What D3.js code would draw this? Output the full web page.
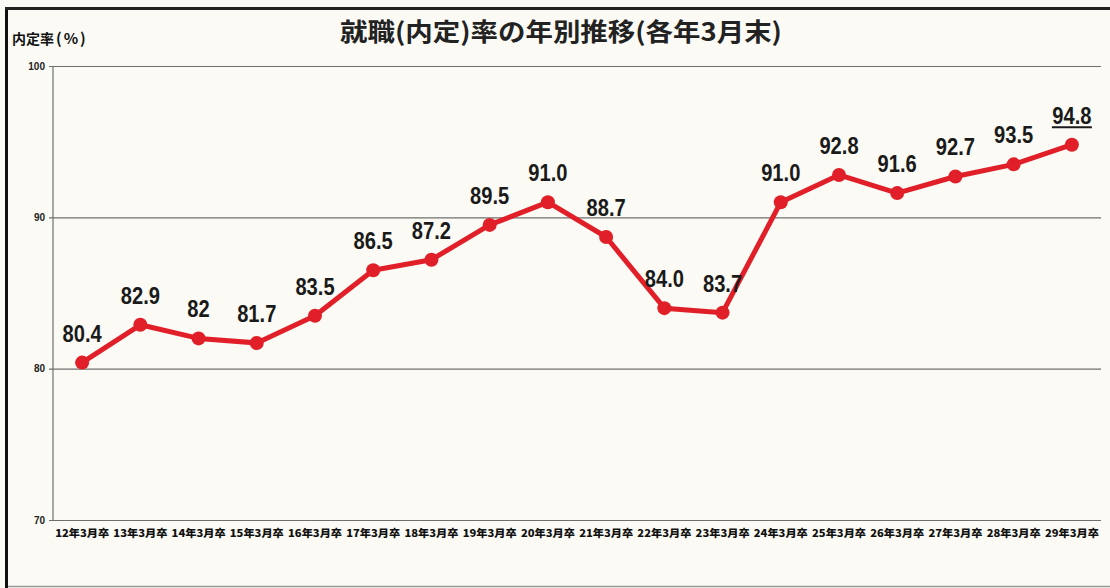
<!DOCTYPE html>
<html><head><meta charset="utf-8">
<script src="https://cdn.jsdelivr.net/npm/d3@7"></script>
<style>
html,body{margin:0;padding:0;background:#fbfaf4;}
svg{display:block;}
</style></head>
<body>
<svg id="chart" width="1110" height="588"></svg>
<script>
const categories = ["12年3月卒","13年3月卒","14年3月卒","15年3月卒","16年3月卒","17年3月卒","18年3月卒","19年3月卒","20年3月卒","21年3月卒","22年3月卒","23年3月卒","24年3月卒","25年3月卒","26年3月卒","27年3月卒","28年3月卒","29年3月卒"];
const values = [80.4,82.9,82,81.7,83.5,86.5,87.2,89.5,91.0,88.7,84.0,83.7,91.0,92.8,91.6,92.7,93.5,94.8];
const valueLabels = ["80.4","82.9","82","81.7","83.5","86.5","87.2","89.5","91.0","88.7","84.0","83.7","91.0","92.8","91.6","92.7","93.5","94.8"];
const yTicks = [70,80,90,100];
const title = "就職(内定)率の年別推移(各年3月末)";
const yTitleMain = "内定率";
const yTitleUnit = "(%)";

const svg = d3.select("#chart");
const W = 1110, H = 588;
const m = {left:53, right:10, top:66, bottom:68};

svg.append("rect").attr("width",W).attr("height",H).attr("fill","#fbfaf4");
// frame
svg.append("line").attr("x1",6.5).attr("x2",6.5).attr("y1",7).attr("y2",H).attr("stroke","#111").attr("stroke-width",3);
svg.append("line").attr("x1",5).attr("x2",W).attr("y1",8.5).attr("y2",8.5).attr("stroke","#222").attr("stroke-width",3);
svg.append("line").attr("x1",8).attr("x2",W).attr("y1",586.5).attr("y2",586.5).attr("stroke","#999").attr("stroke-width",1.5);

const x = d3.scaleBand().domain(categories).range([m.left, 1101]).paddingInner(0).paddingOuter(0);
const y = d3.scaleLinear().domain([70,100]).range([H-m.bottom, m.top]);
const cx = (i)=>x(categories[i])+x.bandwidth()/2;

// gridlines
const yAxis = d3.axisLeft(y).tickValues(yTicks).tickSize(-(1101-m.left)).tickPadding(6);
const gy = svg.append("g").attr("transform",`translate(${m.left},0)`).call(yAxis);
gy.select(".domain").remove();
gy.selectAll(".tick line").attr("stroke","#6f6f6f").attr("stroke-width",1.2).attr("x1",-4);
gy.selectAll(".tick text").attr("fill","#222").style("font-family","'Liberation Sans','Noto Sans',sans-serif")
  .style("font-size","10px").style("font-weight","bold").attr("x",-8);
// y axis line
svg.append("line").attr("x1",m.left).attr("x2",m.left).attr("y1",y(100)).attr("y2",y(70)).attr("stroke","#6f6f6f").attr("stroke-width",1.2);

// x axis labels
const xAxis = d3.axisBottom(x).tickSize(0).tickPadding(10);
const gx = svg.append("g").attr("transform",`translate(0,${y(70)})`).call(xAxis);
gx.select(".domain").remove();
gx.selectAll(".tick text").attr("fill","#111")
  .style("font-family","'Noto Sans CJK JP',sans-serif").style("font-size","10.5px").style("font-weight","900")
  .attr("textLength",54).attr("lengthAdjust","spacingAndGlyphs");

// line
const line = d3.line().x((d,i)=>cx(i)).y(d=>y(d));
svg.append("path").datum(values).attr("d",line).attr("fill","none")
  .attr("stroke","#e11f29").attr("stroke-width",5).attr("stroke-linejoin","round");
svg.selectAll("circle.pt").data(values).enter().append("circle").attr("class","pt")
  .attr("cx",(d,i)=>cx(i)).attr("cy",d=>y(d)).attr("r",7)
  .attr("fill","#e11f29");

// value labels (condensed)
const lg = svg.selectAll("g.val").data(values).enter().append("g").attr("class","val")
  .attr("transform",(d,i)=>`translate(${cx(i)},${y(d)-21}) scale(0.84,1)`);
lg.append("text").attr("text-anchor","middle").attr("fill","#1a1a1a")
  .style("font-family","'Liberation Sans',sans-serif")
  .style("font-size","24px").style("font-weight","bold")
  .text((d,i)=>valueLabels[i]);
// underline last
const li = values.length-1;
svg.append("line").attr("x1",cx(li)-20).attr("x2",cx(li)+20).attr("y1",y(values[li])-17.5).attr("y2",y(values[li])-17.5)
  .attr("stroke","#1a1a1a").attr("stroke-width",2);

// title
svg.append("text").attr("x",340).attr("y",41)
  .style("font-family","'Noto Sans CJK JP',sans-serif").style("font-size","25px").style("font-weight","bold")
  .attr("textLength",442).attr("lengthAdjust","spacingAndGlyphs")
  .attr("fill","#222").text(title);
const yt = svg.append("text").attr("x",12).attr("y",44)
  .style("font-family","'Noto Sans CJK JP',sans-serif").style("font-size","14px").style("font-weight","bold")
  .attr("fill","#111");
yt.append("tspan").text(yTitleMain);
yt.append("tspan").attr("dx",2).style("font-size","15px").style("letter-spacing","2px").text(yTitleUnit);
</script>
</body></html>
